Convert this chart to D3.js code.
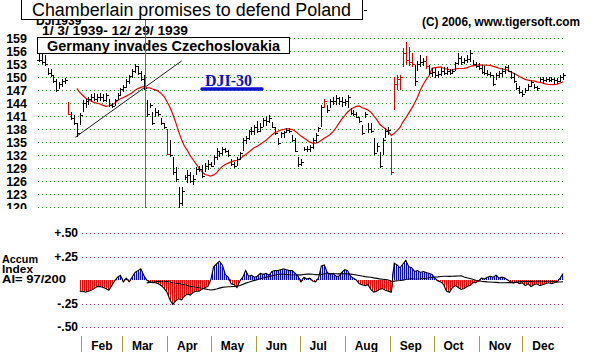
<!DOCTYPE html>
<html>
<head>
<meta charset="utf-8">
<script src="https://cdn.jsdelivr.net/npm/d3@7"></script>
<style>
body { margin: 0; background: #fff; }
svg { display: block; }
text { font-family: Arial, "Liberation Sans", sans-serif; font-weight: bold; fill: #000; }
</style>
</head>
<body>
<div id="chart"></div>
<script>
// DJI 1939, one bar every second calendar day
var firstDay = "1939-01-03", barStep = 2;

var highs = [155.5,155.5,155,152,151.8,150.5,149.5,148.8,149.5,149.8,
    144.2,142,141.2,139.4,141.7,144.7,145,145.4,146,146.2,
    146,146.3,146,146.4,145,144,145,146.2,147.5,148.2,
    149.5,150.5,151.8,153,152.5,151.5,150.5,144.7,144,141.9,
    142.8,142.5,140.5,139.5,138,135.4,131.5,129.2,124.6,124.6,
    127.4,128.5,128,127.4,129.2,129.5,129.7,130.2,130.8,130.4,
    132,133.6,133,133.8,133.6,133.2,131,130.4,131.5,132.7,
    135.9,136.5,137.8,138.5,139,139.8,139.4,140.5,140.8,141.2,
    139.6,138.5,135.9,137.3,137.5,138.2,138.2,136.6,135.9,131.5,
    131,133.8,134,134.2,136,137,138.5,143.5,145,143.5,
    145,145.3,145.8,145.3,145.5,145,145.8,142.8,142.5,142,
    140.8,139,142,139.4,139.4,135.9,134.8,132.7,135.9,138.2,
    138.4,136,150,150.5,150.5,156.7,158,157,155.5,152.8,
    153.8,155,154.5,154.8,152.8,152,152.3,151.5,152,152.3,
    152.3,151.8,151.8,153.5,155.5,154.8,154.5,155,156.2,154,
    153.5,153.2,152.8,152.5,151.6,151.2,150.5,151,151.5,152,
    152.5,152.8,151.5,151,148.6,148,147,147.5,148.5,149.3,
    148.5,148,150,150,150,150,150,149.8,149.8,150.5,151];

var lows = [153.5,153,152.5,150.5,150,148.6,146.5,147.2,147.8,148.3,
    141.2,140,139,136.2,139,142,142.8,143.5,144.3,144.5,
    144.2,144.5,144.3,144.2,143,142.8,143.2,144.8,145.8,146.5,
    147.5,148.5,149.8,151,150.5,149,147,140.8,142.9,139,
    140.8,141,139,138,132,131.5,127.4,125.8,119.8,120.2,
    126.2,125.5,125.5,125,127.4,128,126.7,128,128.5,129.2,
    129.8,130.8,131.5,132,132.5,131.5,129.5,129,129.5,130.8,
    133,134.5,135.4,136.6,136.6,137,137.3,138.5,138.8,139.4,
    138.2,136.6,134.3,135.9,136,137,137,135,132.7,129.2,
    129.5,133,132.8,132.8,133.5,134.7,137.3,138.5,142.8,141.7,
    142.8,143.5,143.5,143.5,143,143.2,142.8,141.2,141,140.5,
    139.4,136.6,140.5,137,137,132,132.7,129,132,136,
    136.6,127.5,142.4,147,147,152.3,152.8,152.5,152.3,148,
    151.5,152.3,152.5,151.8,150.5,150,149.8,149.8,150.2,150.5,
    150.5,150.5,150.8,151.5,152.8,152.8,153,153.3,153.5,152.5,
    152,151.6,150.8,150.5,150.2,150,148,149.3,149.8,150,
    150.8,151.2,149.5,148.6,147,146,145.4,146.2,146.8,147.7,
    147.2,146.8,148.8,148.5,148.8,148.8,148.8,148.5,148.5,148.8,149.3];

var closes = [154,153.5,153,151,150.5,149,147,148.5,149,149.2,
    141.5,140.5,139.5,137,141.2,144,144.5,145,145.5,145,
    145.3,145.5,144.8,145.8,143.5,143.2,144.8,145.8,147.2,147.8,
    149,150.2,151.5,152.5,151,149.5,147.5,141.5,143.5,139.5,
    142,141.5,139.3,138.5,132.3,132,128,126.5,121,123.8,
    127,127.5,126,126.5,128.8,128.8,127.2,129.5,130,129.5,
    131.5,133,132.5,133.5,133,132,130,129.5,131,132.5,
    135.5,136,137.5,137.5,138.5,137.5,138.5,140,139.8,140.5,
    138.5,137,134.8,137,137.2,137.8,137.5,135.5,133,130,
    130.5,133.5,133.5,133.8,135.5,136.5,138.2,143,144.5,142.5,
    144.5,144.5,145.2,144.5,144.2,144.5,145.5,141.8,141.5,140.8,
    139.8,137,141.5,138,137.5,132.5,134,129.5,135.5,137.5,
    137.8,128,148.5,149.5,150,155.5,154,153.5,153,149,
    153,153.5,153.8,152.5,151,151.2,150.5,150.8,151.5,151,
    151.5,151,151.5,153.2,154.5,153.5,154,154.2,155.5,153,
    152.5,152,151.2,151,150.8,150.5,148.5,150.5,151,151.5,
    152.2,151.5,150,149,147.5,146.5,146,147,148,148.8,
    147.8,147.5,149.5,149.3,149.5,149.3,149.5,149.2,149,150,150.5];

// bars printed in red on the original
var redBars = [10, 44, 98, 121, 122, 123, 124, 125, 126, 127, 128, 133];

// Tiger accumulation index, starts on bar 14
var accum = [null,null,null,null,null,null,null,null,null,null,null,null,null,null,
    -0.12,-0.12,-0.13,-0.12,-0.11,-0.09,
    -0.07,-0.07,-0.08,-0.09,-0.11,-0.06,-0.01,0.03,0.05,-0.02,
    0.02,-0.02,0.03,0.08,0.10,0.12,0.05,0.0,-0.02,-0.03,
    -0.03,-0.04,-0.06,-0.09,-0.13,-0.21,-0.26,-0.22,-0.2,-0.21,
    -0.17,-0.15,-0.16,-0.13,-0.12,-0.12,-0.1,-0.08,-0.07,0.0,
    0.14,0.17,0.20,0.16,0.06,0.03,-0.04,-0.05,-0.08,-0.01,
    0.03,0.10,0.04,0.05,0.03,0.04,0.07,0.06,0.07,0.05,
    0.09,0.10,0.10,0.11,0.12,0.11,0.10,0.10,0.07,0.04,
    -0.02,0.03,0.01,0.02,-0.01,-0.02,0.02,0.15,0.16,0.08,
    0.06,0.07,0.04,0.04,0.08,0.11,0.10,0.04,0.02,0.0,
    -0.04,-0.05,-0.06,-0.05,-0.10,-0.13,-0.12,-0.10,-0.09,-0.11,
    -0.12,-0.13,0.18,0.16,0.13,0.17,0.21,0.14,0.13,0.09,
    0.10,0.08,0.09,0.08,0.07,0.06,0.02,-0.01,-0.02,-0.05,
    -0.12,-0.13,-0.08,-0.06,-0.08,-0.10,-0.09,-0.07,-0.06,-0.03,
    -0.03,-0.01,0.02,0.01,0.03,0.04,0.03,0.05,0.02,0.03,
    0.02,0.0,-0.02,-0.03,-0.02,-0.04,-0.03,-0.06,-0.04,-0.07,
    -0.05,-0.04,-0.06,-0.05,-0.04,-0.03,-0.04,-0.03,-0.02,0.02,0.07];

var priceTicks = [159, 156, 153, 150, 147, 144, 141, 138, 135, 132, 129, 126, 123, 120];
var accumTicks = [0.5, 0.25, -0.25, -0.5];
var accumLabels = ["+.50", "+.25", "-.25", "-.50"];
var monthStarts = ["1939-02-01","1939-03-01","1939-04-01","1939-05-01","1939-06-01","1939-07-01",
    "1939-08-01","1939-09-01","1939-10-01","1939-11-01","1939-12-01"];
var monthNames = ["Feb","Mar","Apr","May","Jun","Jul","Aug","Sep","Oct","Nov","Dec"];

var eventDay = "1939-03-17";
var trendLine = [["1939-01-28", 136.1], ["1939-04-11", 153.7]];

var parse = d3.timeParse("%Y-%m-%d");
var start = parse(firstDay);
var dates = closes.map(function (d, i) { return d3.timeDay.offset(start, i * barStep); });

var svg = d3.select("#chart").append("svg")
    .attr("width", 598)
    .attr("height", 352);

var x = d3.scaleTime()
    .domain([parse("1939-01-01"), parse("1939-12-31")])
    .range([36, 566]);
var y = d3.scaleLinear().domain([120, 159]).range([207, 38]);
var ya = d3.scaleLinear().domain([-0.5, 0.5]).range([327, 233]);

function movingAvg(vals, n) {
    return vals.map(function (v, i) {
        if (i < n - 1) return null;
        var s = vals.slice(i - n + 1, i + 1);
        if (s.some(function (q) { return q == null; })) return null;
        return d3.mean(s);
    });
}

var defs = svg.append("defs");
defs.append("clipPath").attr("id", "priceClip")
    .append("rect").attr("x", 0).attr("y", 0).attr("width", 598).attr("height", 209);

function stripes(id, color) {
    var p = defs.append("pattern").attr("id", id)
        .attr("patternUnits", "userSpaceOnUse")
        .attr("width", 2).attr("height", 8);
    p.append("rect").attr("width", 1).attr("height", 8).attr("fill", color);
}
stripes("redStripes", "#f00000");
stripes("blueStripes", "#0000f0");

// price grid
svg.append("g").selectAll("line").data(priceTicks).join("line")
    .attr("x1", 38).attr("x2", 566)
    .attr("y1", function (d) { return Math.round(y(d)) + 0.5; })
    .attr("y2", function (d) { return Math.round(y(d)) + 0.5; })
    .attr("stroke", "#2a8a2a")
    .attr("stroke-dasharray", "1,3");

svg.append("g").attr("clip-path", "url(#priceClip)")
    .selectAll("text").data(priceTicks).join("text")
    .attr("x", 27)
    .attr("y", function (d) { return y(d); })
    .attr("dy", "0.36em")
    .attr("text-anchor", "end")
    .style("font-size", "12.5px")
    .text(function (d) { return d; });

// trend line
svg.append("line")
    .attr("x1", x(parse(trendLine[0][0]))).attr("y1", y(trendLine[0][1]))
    .attr("x2", x(parse(trendLine[1][0]))).attr("y2", y(trendLine[1][1]))
    .attr("stroke", "#000").attr("stroke-width", 0.9);

// moving average of closes
var priceMa = movingAvg(closes, 14);
svg.append("path")
    .datum(d3.range(closes.length))
    .attr("fill", "none")
    .attr("stroke", "#f00000")
    .attr("stroke-width", 1.2)
    .attr("d", d3.line()
        .defined(function (i) { return priceMa[i] != null; })
        .x(function (i) { return x(dates[i]); })
        .y(function (i) { return y(priceMa[i]); }));

// price bars
var barColor = function (i) { return redBars.indexOf(i) >= 0 ? "#e00000" : "#000"; };
var bars = svg.append("g").attr("shape-rendering", "crispEdges");
bars.selectAll("line.hl").data(d3.range(closes.length)).join("line")
    .attr("class", "hl")
    .attr("x1", function (i) { return Math.round(x(dates[i])) + 0.5; })
    .attr("x2", function (i) { return Math.round(x(dates[i])) + 0.5; })
    .attr("y1", function (i) { return y(highs[i]); })
    .attr("y2", function (i) { return y(lows[i]); })
    .attr("stroke", barColor)
    .attr("stroke-width", 1.6);
bars.selectAll("line.op").data(d3.range(closes.length)).join("line")
    .attr("class", "op")
    .attr("x1", function (i) { return Math.round(x(dates[i])) - 2; })
    .attr("x2", function (i) { return Math.round(x(dates[i])); })
    .attr("y1", function (i) { return Math.round(y(i > 0 ? closes[i - 1] : closes[i])) + 0.5; })
    .attr("y2", function (i) { return Math.round(y(i > 0 ? closes[i - 1] : closes[i])) + 0.5; })
    .attr("stroke", barColor);
bars.selectAll("line.cl").data(d3.range(closes.length)).join("line")
    .attr("class", "cl")
    .attr("x1", function (i) { return Math.round(x(dates[i])) + 1; })
    .attr("x2", function (i) { return Math.round(x(dates[i])) + 3; })
    .attr("y1", function (i) { return Math.round(y(closes[i])) + 0.5; })
    .attr("y2", function (i) { return Math.round(y(closes[i])) + 0.5; })
    .attr("stroke", barColor);

// annotations
svg.append("text").attr("x", 36).attr("y", 25)
    .style("font-size", "12px").text("DJI1939");
svg.append("text").attr("x", 42).attr("y", 35)
    .style("font-size", "12px")
    .attr("textLength", 146).attr("lengthAdjust", "spacingAndGlyphs")
    .text("1/ 3/ 1939- 12/ 29/ 1939");

svg.append("rect").attr("x", 37.5).attr("y", 37.5).attr("width", 252).attr("height", 16)
    .attr("fill", "#fff").attr("stroke", "#000");
svg.append("text").attr("x", 47).attr("y", 51)
    .style("font-size", "14px")
    .attr("textLength", 233).attr("lengthAdjust", "spacingAndGlyphs")
    .text("Germany invades Czechoslovakia");

svg.append("line")
    .attr("x1", Math.round(x(parse(eventDay))) + 0.5)
    .attr("x2", Math.round(x(parse(eventDay))) + 0.5)
    .attr("y1", 19).attr("y2", 208)
    .attr("stroke", "#2c9a2c");

svg.append("rect").attr("x", 21.5).attr("y", -1).attr("width", 341).attr("height", 20.5)
    .attr("fill", "#fff").attr("stroke", "#000");
svg.append("text").attr("x", 32).attr("y", 16)
    .style("font-size", "18px").style("font-weight", "normal")
    .attr("textLength", 319).attr("lengthAdjust", "spacingAndGlyphs")
    .text("Chamberlain promises to defend Poland");
svg.append("line").attr("x1", 364).attr("x2", 367).attr("y1", 10.5).attr("y2", 10.5)
    .attr("stroke", "#000");

svg.append("text").attr("x", 422).attr("y", 26)
    .style("font-size", "12px")
    .attr("textLength", 158).attr("lengthAdjust", "spacingAndGlyphs")
    .text("(C) 2006, www.tigersoft.com");

svg.append("text").attr("x", 205).attr("y", 86)
    .style("font-family", "'Liberation Serif', 'Times New Roman', serif")
    .style("font-size", "16px")
    .style("fill", "#1010d0")
    .text("DJI-30");
svg.append("line").attr("x1", 202).attr("x2", 262).attr("y1", 89).attr("y2", 89)
    .attr("stroke", "#1010d0").attr("stroke-width", 3.5).attr("stroke-linecap", "round");

// accumulation index panel
svg.append("g").selectAll("line").data(accumTicks).join("line")
    .attr("x1", 82).attr("x2", 566)
    .attr("y1", function (d) { return Math.round(ya(d)) + 0.5; })
    .attr("y2", function (d) { return Math.round(ya(d)) + 0.5; })
    .attr("stroke", "#a0307a")
    .attr("stroke-dasharray", "1,3");

svg.append("g").selectAll("text").data(accumTicks).join("text")
    .attr("x", 78)
    .attr("y", function (d) { return ya(d); })
    .attr("dy", "0.36em")
    .attr("text-anchor", "end")
    .style("font-size", "12px")
    .text(function (d, i) { return accumLabels[i]; });

var idxLabel = svg.append("g").style("font-size", "10.5px");
idxLabel.append("text").attr("x", 2).attr("y", 263)
    .attr("textLength", 36).attr("lengthAdjust", "spacingAndGlyphs").text("Accum");
idxLabel.append("text").attr("x", 2).attr("y", 273)
    .attr("textLength", 31).attr("lengthAdjust", "spacingAndGlyphs").text("Index");
idxLabel.append("text").attr("x", 2).attr("y", 283)
    .attr("textLength", 64).attr("lengthAdjust", "spacingAndGlyphs")
    .text("AI= 97/200");

var idx = d3.range(accum.length);
svg.append("path").datum(idx)
    .attr("fill", "url(#blueStripes)")
    .attr("d", d3.area()
        .defined(function (i) { return accum[i] != null; })
        .x(function (i) { return x(dates[i]); })
        .y0(ya(0))
        .y1(function (i) { return ya(Math.max(0, accum[i])); }));
svg.append("path").datum(idx)
    .attr("fill", "url(#redStripes)")
    .attr("d", d3.area()
        .defined(function (i) { return accum[i] != null; })
        .x(function (i) { return x(dates[i]); })
        .y0(ya(0))
        .y1(function (i) { return ya(Math.min(0, accum[i])); }));
svg.append("path").datum(idx)
    .attr("fill", "none").attr("stroke", "#000").attr("stroke-width", 1.1)
    .attr("d", d3.line()
        .defined(function (i) { return accum[i] != null; })
        .x(function (i) { return x(dates[i]); })
        .y(function (i) { return ya(accum[i]); }));

var accumMa = movingAvg(accum, 24);
svg.append("path").datum(idx)
    .attr("fill", "none").attr("stroke", "#000").attr("stroke-width", 1.1)
    .attr("d", d3.line()
        .defined(function (i) { return accumMa[i] != null; })
        .x(function (i) { return x(dates[i]); })
        .y(function (i) { return ya(accumMa[i]); }));

// month axis
var months = monthStarts.map(parse);
svg.append("g").selectAll("line").data(months).join("line")
    .attr("x1", function (d) { return Math.round(x(d)) + 0.5; })
    .attr("x2", function (d) { return Math.round(x(d)) + 0.5; })
    .attr("y1", 336).attr("y2", 352)
    .attr("stroke", "#a8a030");
svg.append("g").selectAll("text").data(months).join("text")
    .attr("x", function (d) { return x(d) + 10; })
    .attr("y", 350)
    .style("font-size", "12px")
    .text(function (d, i) { return monthNames[i]; });
</script>
</body>
</html>
